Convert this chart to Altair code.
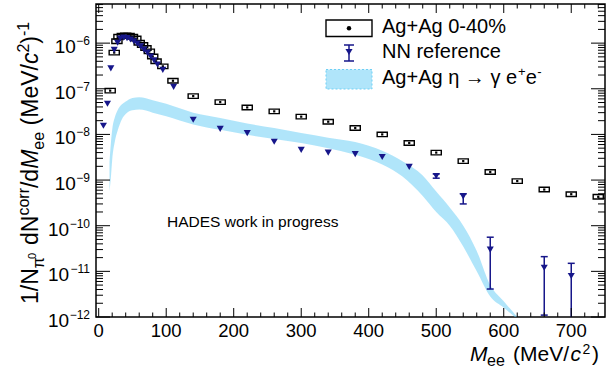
import altair as alt
import pandas as pd

# ---------------- data ----------------
# Ag+Ag 0-40% (points with systematic boxes)
ag_m = [17, 23, 27, 30, 35, 40, 45, 50, 55, 60, 65, 70, 75, 80, 85, 95, 110, 140, 180, 220,
        260, 300, 340, 380, 420, 460, 500, 540, 580, 620, 660, 700, 740]
ag_v = [9.1e-8, 6.2e-7, 1.10e-6, 1.38e-6, 1.45e-6, 1.48e-6, 1.45e-6, 1.38e-6, 1.26e-6, 1.02e-6,
        9.1e-7, 7.8e-7, 6.6e-7, 5.1e-7, 4.0e-7, 3.1e-7, 1.5e-7, 6.9e-8, 5.1e-8, 3.9e-8,
        3.2e-8, 2.45e-8, 1.9e-8, 1.38e-8, 1.0e-8, 6.5e-9, 4.0e-9, 2.6e-9, 1.5e-9, 9.5e-10,
        6.2e-10, 4.9e-10, 4.3e-10]

# NN reference
nn_m = [7, 13, 18, 23, 28, 32, 37, 42, 47, 52, 57, 62, 67, 72, 77, 82, 87, 95, 111, 140,
        180, 220, 260, 300, 340, 380, 420, 460, 500, 540, 580, 660, 700]
nn_v = [1.55e-8, 4.7e-8, 2.8e-7, 7.1e-7, 1.02e-6, 1.26e-6, 1.32e-6, 1.29e-6, 1.20e-6, 1.10e-6,
        9.8e-7, 8.5e-7, 7.2e-7, 6.2e-7, 5.1e-7, 4.2e-7, 3.4e-7, 2.6e-7, 1.1e-7, 2.1e-8,
        1.32e-8, 1.07e-8, 6.9e-9, 4.6e-9, 4.0e-9, 3.7e-9, 3.2e-9, 1.95e-9, 1.23e-9, 4.4e-10,
        3.0e-11, 1.2e-11, 7.9e-12]
nn_err_m = [500, 540, 580, 660, 700]
nn_err_lo = [1.1e-9, 3.0e-10, 4.1e-12, 1.1e-12, 5e-13]
nn_err_hi = [1.36e-9, 5.0e-10, 5.6e-11, 2.1e-11, 1.5e-11]

# Ag+Ag eta -> gamma e+e- band
eta_m = [16, 18, 20, 24, 28, 34, 42, 50, 60, 80, 100, 140, 180, 220, 260, 300, 340, 380, 420, 450,
         480, 500, 520, 540, 560, 580, 600, 620]
eta_hi = [2.5e-9, 6.3e-9, 1.26e-8, 2.4e-8, 3.4e-8, 4.5e-8, 5.5e-8, 6.3e-8, 6.5e-8, 5.6e-8,
          4.7e-8, 3.0e-8, 2.3e-8, 1.74e-8, 1.38e-8, 1.07e-8, 8.5e-9, 6.8e-9, 4.4e-9, 2.6e-9,
          1.26e-9, 5.6e-10, 2.5e-10, 1.0e-10, 2.8e-11, 5.0e-12, 2.2e-12, 1.0e-12]
eta_lo = [5.6e-10, 1.12e-9, 2.8e-9, 7.1e-9, 1.2e-8, 2.1e-8, 3.0e-8, 3.4e-8, 3.5e-8, 3.0e-8,
          2.5e-8, 1.66e-8, 1.26e-8, 9.8e-9, 7.9e-9, 6.5e-9, 5.0e-9, 3.6e-9, 2.2e-9, 1.2e-9,
          4.5e-10, 2.0e-10, 1.0e-10, 3.5e-11, 1.0e-11, 2.8e-12, 1.6e-12, 9e-13]

# axis ticks / labels
x_major = [0, 100, 200, 300, 400, 500, 600, 700]
x_labels = ["0", "100", "200", "300", "400", "500", "600", "700"]
x_minor = [20, 40, 60, 80, 120, 140, 160, 180, 220, 240, 260, 280, 320, 340, 360, 380,
           420, 440, 460, 480, 520, 540, 560, 580, 620, 640, 660, 680, 720, 740]
y_major = [1e-12, 1e-11, 1e-10, 1e-9, 1e-8, 1e-7, 1e-6]
y_exp = ["\u221212", "\u221211", "\u221210", "\u22129", "\u22128", "\u22127", "\u22126"]
y_minor = [k * d for d in [1e-12, 1e-11, 1e-10, 1e-9, 1e-8, 1e-7, 1e-6]
           for k in range(2, 10) if k * d <= 7.2e-6]

# ---------------- layout / style ----------------
FONT = "Liberation Sans"
W, H = 509, 313
NAVY = "#16168a"
BAND = "#6fd0f5"
xs = alt.Scale(domain=[-4, 750], nice=False, zero=False)
ys = alt.Scale(type="log", domain=[1e-12, 7.2e-6], nice=False)
one = pd.DataFrame({"a": [0]})

layers = []

# band
band_df = pd.DataFrame({"m": eta_m, "lo": eta_lo, "hi": eta_hi})
layers.append(
    alt.Chart(band_df).mark_area(color=BAND, opacity=0.55, clip=True, interpolate="monotone").encode(
        x=alt.X("m:Q", scale=xs, axis=None),
        y=alt.Y("hi:Q", scale=ys, axis=None),
        y2="lo:Q",
    )
)

# Ag+Ag boxes and points
ag_df = pd.DataFrame({"m": ag_m, "v": ag_v})
ag_df["x1"] = ag_df["m"] - 7.5
ag_df["x2"] = ag_df["m"] + 7.5
ag_df["y1"] = ag_df["v"] / 1.12
ag_df["y2"] = ag_df["v"] * 1.12
layers.append(
    alt.Chart(ag_df).mark_rect(fillOpacity=0, stroke="black", strokeWidth=1.4).encode(
        x=alt.X("x1:Q", scale=xs, axis=None), x2="x2:Q",
        y=alt.Y("y1:Q", scale=ys, axis=None), y2="y2:Q",
    )
)
layers.append(
    alt.Chart(ag_df).mark_point(shape="square", filled=True, size=5, color="black", opacity=1).encode(
        x=alt.X("m:Q", scale=xs, axis=None), y=alt.Y("v:Q", scale=ys, axis=None)
    )
)

# NN reference
err_df = pd.DataFrame({"m": nn_err_m, "lo": nn_err_lo, "hi": nn_err_hi})
layers.append(
    alt.Chart(err_df).mark_rule(color=NAVY, strokeWidth=1.5, clip=True).encode(
        x=alt.X("m:Q", scale=xs, axis=None), y=alt.Y("lo:Q", scale=ys, axis=None), y2="hi:Q"
    )
)
for col in ["lo", "hi"]:
    layers.append(
        alt.Chart(err_df).mark_tick(orient="horizontal", size=7, thickness=1.5, color=NAVY,
                                    clip=True, opacity=1).encode(
            x=alt.X("m:Q", scale=xs, axis=None), y=alt.Y(f"{col}:Q", scale=ys, axis=None)
        )
    )
nn_df = pd.DataFrame({"m": nn_m, "v": nn_v})
layers.append(
    alt.Chart(nn_df).mark_point(shape="triangle-down", filled=True, size=50, color=NAVY, opacity=1).encode(
        x=alt.X("m:Q", scale=xs, axis=None), y=alt.Y("v:Q", scale=ys, axis=None)
    )
)

# ticks (inside frame, ROOT style)
def xticks(vals, length):
    d = pd.DataFrame({"v": vals})
    out = []
    for y0, y1 in [(H, H - length), (0, length)]:
        out.append(alt.Chart(d).mark_rule(color="black", strokeWidth=1).encode(
            x=alt.X("v:Q", scale=xs, axis=None), y=alt.value(y0), y2=alt.value(y1)))
    return out

def yticks(vals, length):
    d = pd.DataFrame({"v": vals})
    out = []
    for x0, x1 in [(0, length), (W, W - length)]:
        out.append(alt.Chart(d).mark_rule(color="black", strokeWidth=1).encode(
            y=alt.Y("v:Q", scale=ys, axis=None), x=alt.value(x0), x2=alt.value(x1)))
    return out

layers += xticks(x_major, 9) + xticks(x_minor, 4.5)
layers += yticks(y_major, 14) + yticks(y_minor, 7)

# x tick labels
xlab = pd.DataFrame({"v": x_major, "t": x_labels})
layers.append(
    alt.Chart(xlab).mark_text(align="center", baseline="middle", font=FONT, fontSize=18.5, color="black").encode(
        x=alt.X("v:Q", scale=xs, axis=None), y=alt.value(H + 14), text="t:N")
)

# y tick labels: "10" with a superscript exponent
EXP_FS, BASE_FS = 12, 19
ylab = pd.DataFrame({"v": y_major, "e": y_exp})
ylab["n"] = ylab["e"].str.len()
layers.append(
    alt.Chart(ylab).mark_text(align="right", baseline="alphabetic", font=FONT, fontSize=EXP_FS,
                              color="black", dy=2).encode(
        y=alt.Y("v:Q", scale=ys, axis=None), x=alt.value(-6), text="e:N")
)
for n in [2, 3]:
    expw = (0.584 + 0.556 * (n - 1)) * EXP_FS
    layers.append(
        alt.Chart(ylab).transform_filter(f"datum.n == {n}").mark_text(
            align="right", baseline="alphabetic", font=FONT, fontSize=BASE_FS, color="black", dy=10).encode(
            y=alt.Y("v:Q", scale=ys, axis=None), x=alt.value(-6 - expw - 0.5), text=alt.value("10"))
    )

# helper for free text
def txt(t, x, y, size, italic=False, angle=0, align="left", baseline="alphabetic", color="black"):
    kw = dict(align=align, baseline=baseline, font=FONT, fontSize=size, color=color)
    if italic:
        kw["fontStyle"] = "italic"
    if angle:
        kw["angle"] = angle
    return alt.Chart(one).mark_text(**kw).encode(x=alt.value(x), y=alt.value(y), text=alt.value(t))

CW = {'1': .556, '/': .278, 'N': .722, '\u03c0': .57, '0': .556, ' ': .278, 'd': .556, 'c': .5,
      'o': .556, 'r': .333, 'M': .833, 'e': .556, '(': .333, 'V': .667, '2': .556, ')': .333,
      '-': .333, 'A': .667, 'g': .556, '+': .584, '\u03b7': .556, '\u2192': 1.0, '\u03b3': .5}

def tw(s, size):
    return sum(CW.get(ch, .556) for ch in s) * size

# y-axis title (rotated, composed of pieces); gap = extra space before the piece
F, S = 23, 16
ytitle = [("1/N", F, False, 0, 0), ("\u03c0", S, False, 6, 0), ("0", 11, False, -2, 0),
          ("dN", F, False, 0, 8), ("corr", S, False, -9, 0), ("/d", F, False, 0, 0),
          ("M", F, True, 0, 0), ("ee", S, False, 6, 0), ("(MeV/", F, False, 0, 6.5),
          ("c", F, True, 0, 0), ("2", S, False, -9, 0), (")", F, False, 0, 0),
          ("-1", S, False, -9, 0)]
base_x, pos = -58, 300
for t, size, it, sh, gap in ytitle:
    pos -= gap
    layers.append(txt(t, base_x + sh, pos, size, italic=it, angle=270))
    pos -= tw(t, size)

# x-axis title
layers += [
    txt("M", 374, 357, 21, italic=True),
    txt("ee", 391, 362, 16),
    txt("(MeV/", 417, 357, 21),
    txt("c", 474.5, 357, 21, italic=True),
    txt("2", 486.5, 350, 14),
    txt(")", 496, 357, 21),
]

# legend
layers.append(alt.Chart(one).mark_rect(fillOpacity=0, stroke="black", strokeWidth=1.4).encode(
    x=alt.value(230), x2=alt.value(276), y=alt.value(16), y2=alt.value(32.5)))
layers.append(alt.Chart(one).mark_point(shape="circle", filled=True, size=20, color="black", opacity=1).encode(
    x=alt.value(253), y=alt.value(24.3)))
layers.append(alt.Chart(one).mark_rule(color=NAVY, strokeWidth=1.5).encode(
    x=alt.value(253), y=alt.value(41), y2=alt.value(57)))
for yy in [41, 57]:
    layers.append(alt.Chart(one).mark_rule(color=NAVY, strokeWidth=1.5).encode(
        x=alt.value(248), x2=alt.value(258), y=alt.value(yy)))
layers.append(alt.Chart(one).mark_point(shape="triangle-down", filled=True, size=50, color=NAVY, opacity=1).encode(
    x=alt.value(253), y=alt.value(48)))
layers.append(alt.Chart(one).mark_rect(fill=BAND, fillOpacity=0.55, stroke=BAND, strokeDash=[2, 2], strokeWidth=1).encode(
    x=alt.value(230), x2=alt.value(276), y=alt.value(65.5), y2=alt.value(85)))

LX = 286
layers.append(txt("Ag+Ag 0-40%", LX, 28.5, 20))
layers.append(txt("NN reference", LX, 53.5, 20))
main = "Ag+Ag \u03b7 \u2192 \u03b3 e"
p = LX
layers.append(txt(main, p, 79.5, 20))
p += tw(main, 20) + 1
layers.append(txt("+", p, 71.5, 13))
p += tw("+", 13)
layers.append(txt("e", p, 79.5, 20))
p += tw("e", 20) + 0.5
layers.append(txt("-", p, 71.5, 13))

# annotation
layers.append(txt("HADES work in progress", 71, 218, 15.5, baseline="middle"))

chart = alt.layer(*layers).properties(
    width=W, height=H,
    padding={"left": 96, "top": 4, "right": 2, "bottom": 54},
    autosize=alt.AutoSizeParams(type="none"),
    background="white",
).configure_view(stroke="black", strokeWidth=1.5)

chart.save("out.html", embed_options={"renderer": "svg", "actions": False})
